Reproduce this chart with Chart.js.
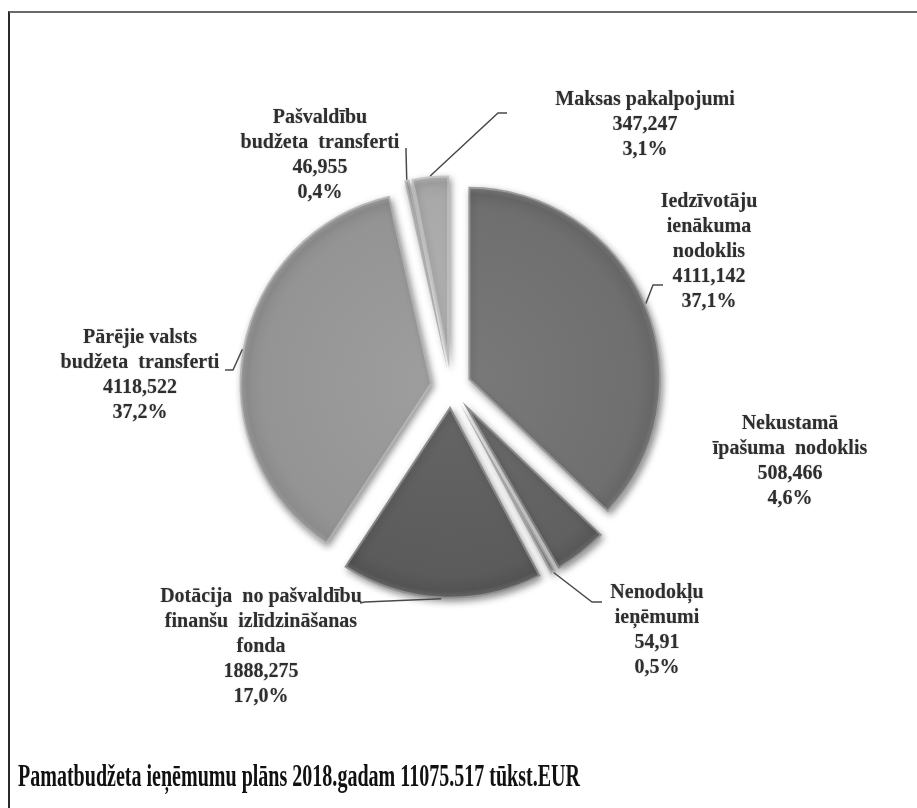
<!DOCTYPE html>
<html>
<head>
<meta charset="utf-8">
<script src="https://cdn.jsdelivr.net/npm/chart.js@4.4.1/dist/chart.umd.min.js"></script>
<style>
  body { margin: 0; background: #fff; }
  #wrap { position: absolute; left: 0; top: 0; width: 917px; height: 808px; }
  #frame { position: absolute; left: 8px; top: 11px; right: 0; bottom: 0;
           border-top: 2px solid #6a6a6a; border-left: 2px solid #2a2a2a; }
</style>
</head>
<body>
<div id="frame"></div>
<div id="wrap"><canvas id="pie"></canvas></div>
<script>
// Kategorijas pulksteņrādītāja virzienā, sākot no augšas
const kategorijas = [
  ['Iedzīvotāju', 'ienākuma', 'nodoklis'],
  ['Nekustamā', 'īpašuma  nodoklis'],
  ['Nenodokļu', 'ieņēmumi'],
  ['Dotācija  no pašvaldību', 'finanšu  izlīdzināšanas', 'fonda'],
  ['Pārējie valsts', 'budžeta  transferti'],
  ['Pašvaldību', 'budžeta  transferti'],
  ['Maksas pakalpojumi']
];
// tūkst. EUR
const vertibas = [4111.142, 508.466, 54.91, 1888.275, 4118.522, 46.955, 347.247];
const virsraksts = 'Pamatbudžeta ieņēmumu plāns 2018.gadam 11075.517 tūkst.EUR';

// stils
const toni = ['#6f6f6f', '#606060', '#8a8a8a', '#5b5b5b', '#949494', '#a0a0a0', '#a9a9a9'];
const pieRadius = 193;
const izcelsana = 19;
const rindasAugstums = 25;
// etiķešu centri (pirmā rinda)
const etiketesPoz = [[709, 202], [790, 424], [657, 593], [261, 597], [140, 338], [320, 118], [645, 100]];
// līniju lūzuma un beigu punkti
const lideri = [
  [[653, 285], [663, 285]],
  null,
  [[592, 602], [602, 602]],
  [[365, 602], [360, 603]],
  [[233, 370], [225, 370]],
  [[406, 150], [406, 148]],
  [[498, 113], [507, 113]]
];

const kopa = vertibas.reduce((a, b) => a + b, 0);

function gray(hex, d) {
  const v = Math.max(0, Math.min(255, parseInt(hex.slice(1, 3), 16) + d));
  return 'rgb(' + v + ',' + v + ',' + v + ')';
}

function gradients(c) {
  const chart = c.chart;
  const ca = chart.chartArea;
  const base = toni[c.dataIndex];
  if (!ca) return base;
  const cx = (ca.left + ca.right) / 2;
  const cy = (ca.top + ca.bottom) / 2;
  const g = chart.ctx.createRadialGradient(cx, cy, 0, cx, cy, pieRadius);
  g.addColorStop(0, gray(base, 10));
  g.addColorStop(0.88, gray(base, 0));
  g.addColorStop(0.96, gray(base, -8));
  g.addColorStop(1, gray(base, 18));
  return g;
}

const pieEfekti = {
  id: 'pieEfekti',
  beforeDatasetsDraw(chart) {
    const ctx = chart.ctx;
    const meta = chart.getDatasetMeta(0);
    ctx.save();
    ctx.shadowColor = 'rgba(0,0,0,0.45)';
    ctx.shadowBlur = 7;
    ctx.shadowOffsetX = 2;
    ctx.shadowOffsetY = 3;
    meta.data.forEach(arc => {
      const mid = (arc.startAngle + arc.endAngle) / 2;
      ctx.save();
      ctx.translate(Math.cos(mid) * izcelsana, Math.sin(mid) * izcelsana);
      arc.draw(ctx);
      ctx.restore();
    });
    ctx.restore();
    return false;
  },
  afterDraw(chart) {
    const ctx = chart.ctx;
    const meta = chart.getDatasetMeta(0);

    // līnijas
    ctx.save();
    ctx.strokeStyle = '#4a4a4a';
    ctx.lineWidth = 1.5;
    meta.data.forEach((arc, i) => {
      const l = lideri[i];
      if (!l) return;
      const mid = (arc.startAngle + arc.endAngle) / 2;
      const r = arc.outerRadius + izcelsana;
      ctx.beginPath();
      ctx.moveTo(arc.x + Math.cos(mid) * r, arc.y + Math.sin(mid) * r);
      ctx.lineTo(l[0][0], l[0][1]);
      ctx.lineTo(l[1][0], l[1][1]);
      ctx.stroke();
    });
    ctx.restore();

    // etiķetes
    ctx.save();
    ctx.font = 'bold 20px "Liberation Serif"';
    ctx.fillStyle = '#2e2e2e';
    ctx.textAlign = 'center';
    ctx.textBaseline = 'middle';
    ctx.shadowColor = 'rgba(0,0,0,0.25)';
    ctx.shadowBlur = 1.5;
    kategorijas.forEach((k, i) => {
      const v = vertibas[i];
      const rindas = k.concat([
        String(v).replace('.', ','),
        (v / kopa * 100).toFixed(1).replace('.', ',') + '%'
      ]);
      const [x, y] = etiketesPoz[i];
      rindas.forEach((t, j) => ctx.fillText(t, x, y + j * rindasAugstums));
    });
    ctx.restore();

    // virsraksts
    ctx.save();
    ctx.font = 'bold 32px "Liberation Serif"';
    ctx.fillStyle = '#111';
    ctx.textBaseline = 'alphabetic';
    const w = ctx.measureText(virsraksts).width;
    ctx.translate(18, 786);
    ctx.scale(562 / w, 1);
    ctx.fillText(virsraksts, 0, 0);
    ctx.restore();
  }
};

new Chart(document.getElementById('pie'), {
  type: 'pie',
  data: {
    labels: kategorijas,
    datasets: [{
      data: vertibas,
      backgroundColor: gradients,
      borderColor: 'rgba(255,255,255,0.28)',
      borderWidth: 2,
      borderAlign: 'inner',
      offset: 0,
      hoverOffset: 0
    }]
  },
  options: {
    responsive: true,
    maintainAspectRatio: false,
    animation: false,
    events: [],
    radius: pieRadius,
    layout: { padding: { left: 20, right: 35, top: 20, bottom: 54 } },
    plugins: {
      legend: { display: false },
      tooltip: { enabled: false }
    }
  },
  plugins: [pieEfekti]
});
</script>
</body>
</html>
